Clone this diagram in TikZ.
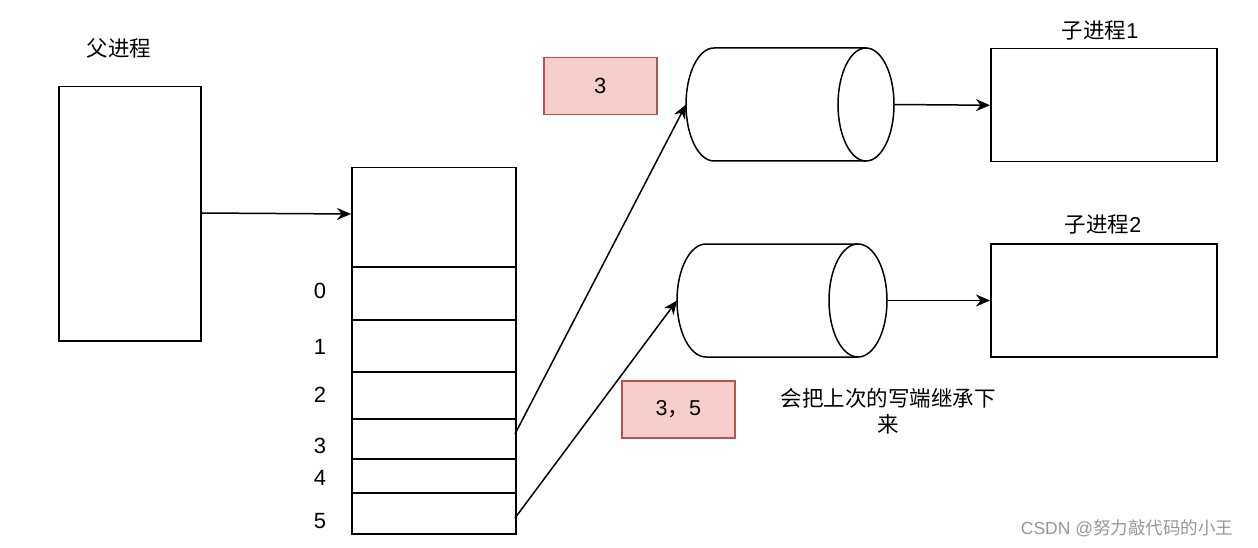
\documentclass[tikz,border=0pt]{standalone}
\usepackage{fontspec}
\setmainfont{Noto Sans CJK SC}
\newfontfamily\latf{Liberation Sans}
\usetikzlibrary{arrows.meta}
\begin{document}
\begin{tikzpicture}[x=1pt,y=-1pt,
  line width=1.5pt,
  box/.style={draw=black,line width=1.5pt,inner sep=0pt,anchor=north west},
  pinkbox/.style={draw={rgb,255:red,184;green,84;blue,80},fill={rgb,255:red,248;green,206;blue,204},line width=1.5pt,inner sep=0pt,anchor=north west},
  lbl/.style={font=\fontsize{21.5}{26}\selectfont,inner sep=0pt},
  num/.style={font=\latf\fontsize{22}{26}\selectfont,inner sep=0pt},
  arr/.style={-{Stealth[length=14pt,width=12pt]},line width=1.5pt}]
\useasboundingbox (0,0) rectangle (1258,548);
% parent
\node[lbl] (plbl) at (119,48) {父进程};
\node[box,minimum width=142pt,minimum height=254pt] (parent) at (58,86) {};
% table
\node[box,minimum width=164pt,minimum height=366pt] (table) at (351,167) {};
\foreach \yy in {267,320,372,419,459,493} \draw (351,\yy) -- (515,\yy);
\foreach \n/\yy in {0/291,1/347,2/395,3/446,4/478,5/521}
  \node[num] (n\n) at (320,\yy) {\n};
\coordinate (t3) at (515,434);
\coordinate (t5) at (515,518);
\coordinate (tin) at (351,214);
% cylinder 1
\draw (866,48) -- (714,48) arc[start angle=-90,end angle=-270,x radius=28,y radius=56.5] -- (866,161);
\draw (866,104.5) ellipse[x radius=28,y radius=56.5];
\coordinate (c1w) at (686,104.5);
\coordinate (c1e) at (894,104.5);
% cylinder 2
\draw (858,244) -- (706,244) arc[start angle=-90,end angle=-270,x radius=29,y radius=56.5] -- (858,357);
\draw (858,300.5) ellipse[x radius=29,y radius=56.5];
\coordinate (c2w) at (677,300.5);
\coordinate (c2e) at (887,300.5);
% children
\node[lbl] (k1lbl) at (1100,30) {子进程{\latf 1}};
\node[box,minimum width=226pt,minimum height=113pt] (child1) at (990,48) {};
\node[lbl] (k2lbl) at (1103,224) {子进程{\latf 2}};
\node[box,minimum width=226pt,minimum height=113pt] (child2) at (990,243) {};
% pink boxes
\node[pinkbox,minimum width=113pt,minimum height=57pt] (p1) at (543,57) {};
\node[num] (p1t) at (p1.center) {3};
\node[pinkbox,minimum width=113pt,minimum height=57pt] (p2) at (621,380) {};
\node[lbl] (p2t) at (p2.center) {{\latf 3}，{\latf 5}};
% note
\node[lbl,align=center] (note) at (888,411) {会把上次的写端继承下\\来};
% arrows
\draw[arr] (parent.east |- 0,213) -- (tin);
\draw[arr] (t3) -- (c1w);
\draw[arr] (t5) -- (c2w);
\draw[arr] (c1e) -- (child1.west);
\draw[arr] (c2e) -- (child2.west |- c2e);
% watermark
\node[font=\fontsize{17.5}{20}\selectfont,text={rgb,255:red,150;green,150;blue,150},inner sep=0pt] (wm) at (1127,528) {{\latf CSDN @}努力敲代码的小王};
\end{tikzpicture}
\end{document}
